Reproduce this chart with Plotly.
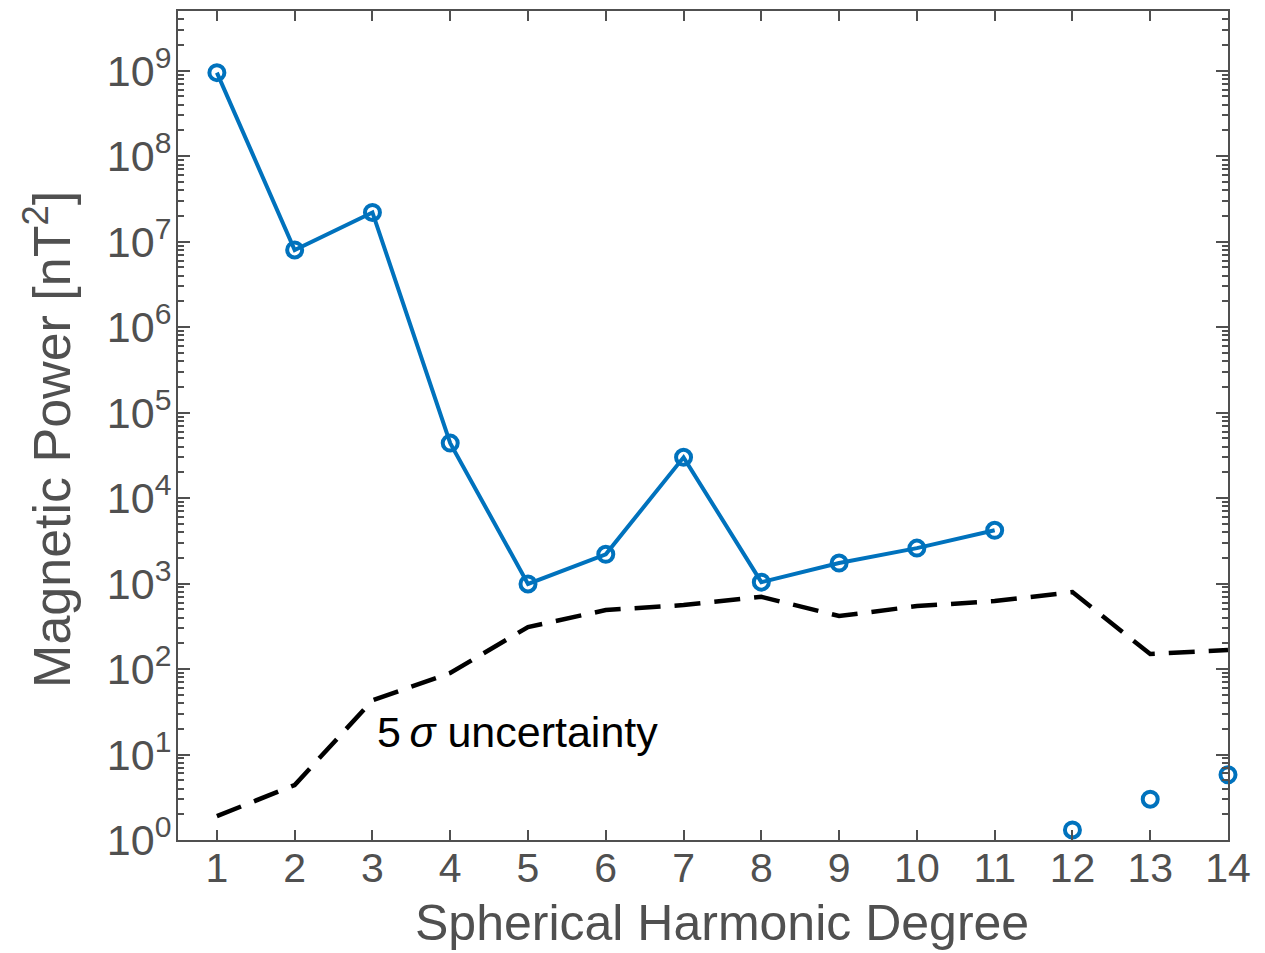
import plotly.graph_objects as go

degrees_line = [1, 2, 3, 4, 5, 6, 7, 8, 9, 10, 11]
power_line = [9.5e8, 8.0e6, 2.2e7, 4.4e4, 990, 2.2e3, 3.0e4, 1040, 1.74e3, 2.6e3, 4.2e3]
degrees_pts = [12, 13, 14]
power_pts = [1.31, 3.0, 5.8]
degrees_unc = [1, 2, 3, 4, 5, 6, 7, 8, 9, 10, 11, 12, 13, 14]
uncertainty = [1.9, 4.4, 43, 90, 310, 490, 560, 700, 417, 545, 624, 795, 150, 167]
ytick_vals = [1, 10, 100, 1e3, 1e4, 1e5, 1e6, 1e7, 1e8, 1e9]
ytick_text = ["10<sup>%d</sup>" % i for i in range(10)]
xtick_vals = list(range(1, 15))

blue = "#0072BD"
axcol = "#505050"
font = "Liberation Sans, Arial, sans-serif"

marker = dict(symbol="circle-open", size=15, color=blue, line=dict(width=4, color=blue))

fig = go.Figure()
fig.add_trace(go.Scatter(x=degrees_unc, y=uncertainty, mode="lines",
                         line=dict(color="black", width=4.5, dash="26px,14px"),
                         showlegend=False, cliponaxis=False))
fig.add_trace(go.Scatter(x=degrees_line, y=power_line, mode="lines+markers",
                         line=dict(color=blue, width=4), marker=marker,
                         showlegend=False, cliponaxis=False))
fig.add_trace(go.Scatter(x=degrees_pts, y=power_pts, mode="markers", marker=marker,
                         showlegend=False, cliponaxis=False))

fig.add_annotation(x=3.03, y=1.263, xref="x", yref="y", text="5\u2009<i>σ</i> uncertainty",
                   showarrow=False, xanchor="left", yanchor="middle",
                   font=dict(family=font, size=43, color="black"))
# axis titles
fig.add_annotation(x=0.518, y=-0.0999, xref="paper", yref="paper",
                   text="Spherical Harmonic Degree", showarrow=False,
                   xanchor="center", yanchor="middle",
                   font=dict(family=font, size=50, color=axcol))
fig.add_annotation(x=-0.1238, y=0.4826, xref="paper", yref="paper",
                   text="Magnetic Power [nT<sup>2</sup>]", showarrow=False, textangle=-90,
                   xanchor="center", yanchor="middle",
                   font=dict(family=font, size=52, color=axcol))

fig.update_layout(
    width=1265, height=953,
    margin=dict(l=178, r=37, t=9, b=113),
    paper_bgcolor="white", plot_bgcolor="white",
    font=dict(family=font, color=axcol),
)
fig.update_xaxes(range=[0.5, 14], tickvals=xtick_vals, ticks="inside", ticklen=10,
                 tickwidth=2, tickcolor=axcol, showline=True, linewidth=2,
                 linecolor=axcol, mirror="ticks", showgrid=False, zeroline=False,
                 tickfont=dict(size=41, color=axcol), ticklabelstandoff=-9)
fig.update_yaxes(type="log", range=[0, 9.699], tickvals=ytick_vals, ticktext=ytick_text,
                 ticks="inside", ticklen=12, tickwidth=2, tickcolor=axcol,
                 showline=True, linewidth=2, linecolor=axcol, mirror="ticks",
                 showgrid=False, zeroline=False,
                 minor=dict(ticks="inside", ticklen=6, tickwidth=1.5, tickcolor=axcol,
                            dtick="D1", showgrid=False),
                 tickfont=dict(size=43, color=axcol), ticklabelstandoff=-4)

fig.write_html("out.html")
